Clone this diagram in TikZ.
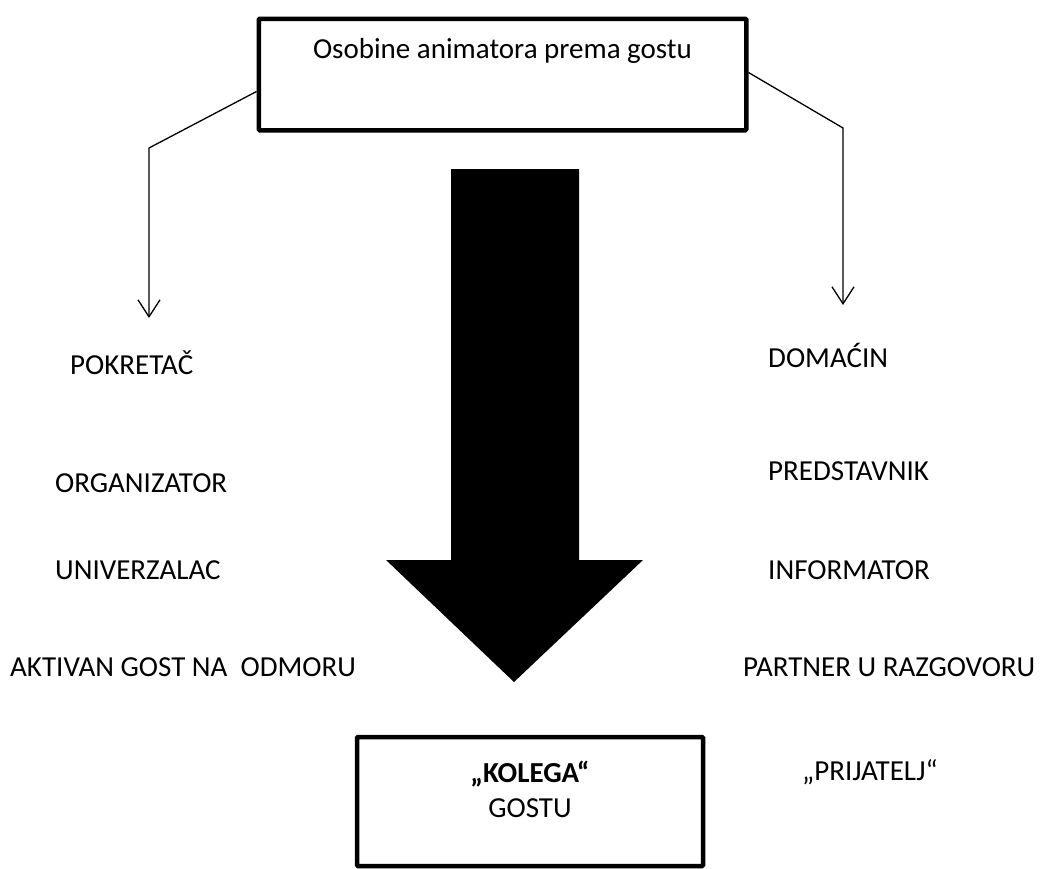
\documentclass[tikz,border=0pt]{standalone}
\usepackage{fontspec}
\setmainfont{Carlito}
\usetikzlibrary{arrows.meta,positioning}

\begin{document}
\begin{tikzpicture}[x=1pt,y=-1pt,font=\fontsize{29pt}{35pt}\selectfont,
	okvir/.style={draw,line width=4.5pt,rounded corners=1pt,inner sep=0pt},
	tekst/.style={inner sep=0pt,anchor=base west},
	veza/.style={line width=1.3pt,-{Straight Barb[length=17pt,width=22pt]}}]
	\useasboundingbox (0,0) rectangle (1044,868);
	\node[okvir,anchor=north,minimum width=487.5pt,text height=39.5pt,text depth=72pt] (osobine) at (502.5,16.5) {Osobine animatora prema gostu};
	\node[tekst] (pokretac) at (70,374) {POKRETAČ};
	\node[tekst] (organizator) at (55,492) {ORGANIZATOR};
	\node[tekst] (univerzalac) at (55,579) {UNIVERZALAC};
	\node[tekst] (aktivan) at (10,676) {AKTIVAN GOST NA~~ODMORU};
	\node[tekst] (domacin) at (768,367) {DOMAĆIN};
	\node[tekst] (predstavnik) at (768,480) {PREDSTAVNIK};
	\node[tekst] (informator) at (768,579) {INFORMATOR};
	\node[tekst] (partner) at (743,676) {PARTNER U RAZGOVORU};
	\node[tekst] (prijatelj) at (802,780) {„PRIJATELJ“};
	\fill (451,169) -- (579,169) -- (579,560) -- (643,560) -- (514,682) -- (386,560) -- (451,560) -- cycle;
	\node[okvir,minimum width=346pt,minimum height=129pt] (kolega) at (530,801.5) {};
	\node[tekst,anchor=base] (kolegaime) at (530,782) {\textbf{„KOLEGA“}};
	\node[tekst,anchor=base] (gostu) at (530,817) {GOSTU};
	\coordinate (lugao) at (149,148);
	\coordinate (lvrh) at (149,318);
	\coordinate (dugao) at (843,128);
	\coordinate (dvrh) at (843,305);
	\draw[veza] ([yshift=-17pt]osobine.west) -- (lugao) -- (lvrh);
	\draw[veza] ([yshift=2pt]osobine.east) -- (dugao) -- (dvrh);
\end{tikzpicture}
\end{document}
